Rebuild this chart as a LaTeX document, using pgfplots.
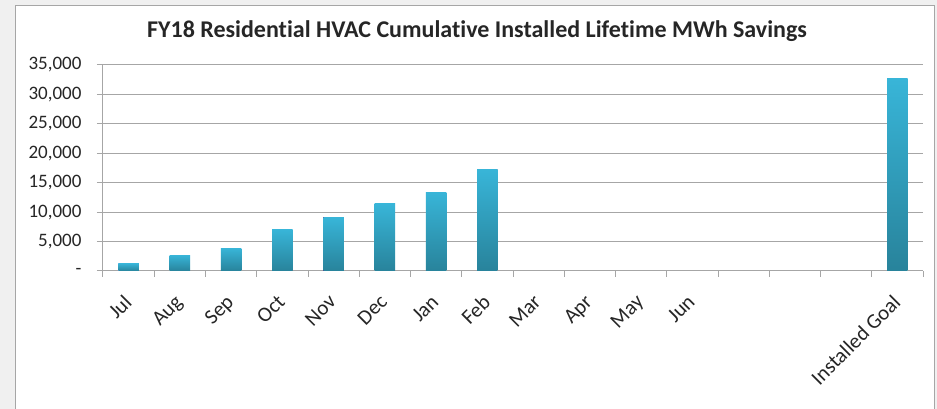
\documentclass[border=0pt]{standalone}
\usepackage{fontspec}
\setmainfont[Ligatures=NoCommon]{Carlito}
\usepackage{pgfplots}
\pgfplotsset{compat=1.18}

\definecolor{bartop}{HTML}{38B5D8}
\definecolor{barbot}{HTML}{28839B}
\definecolor{gridgray}{HTML}{A6A6A6}
\definecolor{bggray}{HTML}{F0F0F0}

\begin{document}
\begin{tikzpicture}[x=1pt,y=1pt]
\useasboundingbox (0,0) rectangle (937,409);
\fill[bggray] (0,0) rectangle (937,409);
\fill[white, draw=gray!70] (15,-5) rectangle (934,404);
\node[font=\fontsize{24}{28}\selectfont\bfseries, text=black!85] at (477,378) {FY18 Residential HVAC Cumulative Installed Lifetime MWh Savings};
\begin{axis}[
    at={(103pt,138pt)}, anchor=south west,
    scale only axis,
    width=820pt, height=206pt,
    ybar, bar width=20.5pt, bar shift=0pt,
    xmin=-0.5, xmax=15.5,
    ymin=0, ymax=35000,
    scaled y ticks=false,
    ytick={0,5000,...,35000},
    yticklabels={-,{5,000},{10,000},{15,000},{20,000},{25,000},{30,000},{35,000}},
    xtick={0,...,15},
    xticklabels={Jul,Aug,Sep,Oct,Nov,Dec,Jan,Feb,Mar,Apr,May,Jun,,,,Installed Goal},
    minor xtick={-0.5,0.5,...,15.5},
    major x tick style={draw=none},
    minor x tick style={draw=gridgray, line width=1pt},
    xtick pos=bottom, ytick pos=left,
    tick align=outside,
    major tick length=6pt, minor tick length=6pt,
    ymajorgrids, grid style={gridgray, line width=1pt},
    axis x line*=bottom, axis y line*=left,
    axis line style={gridgray, line width=1pt, -},
    y tick style={draw=gridgray, line width=1pt},
    yticklabel style={font=\fontsize{19}{22}\selectfont, text=black!85, xshift=-12pt},
    xticklabel style={xshift=-6pt, yshift=-15pt, font=\fontsize{21}{24}\selectfont, text=black!85, rotate=45, anchor=north east, inner sep=1pt},
    /pgf/number format/assume math mode=true,
    every axis plot/.append style={draw=none, top color=bartop, bottom color=barbot},
]
\addplot coordinates {(0,1300)};
\addplot coordinates {(1,2700)};
\addplot coordinates {(2,3900)};
\addplot coordinates {(3,7050)};
\addplot coordinates {(4,9100)};
\addplot coordinates {(5,11400)};
\addplot coordinates {(6,13400)};
\addplot coordinates {(7,17300)};
\addplot coordinates {(15,32650)};
\end{axis}
\end{tikzpicture}
\end{document}
